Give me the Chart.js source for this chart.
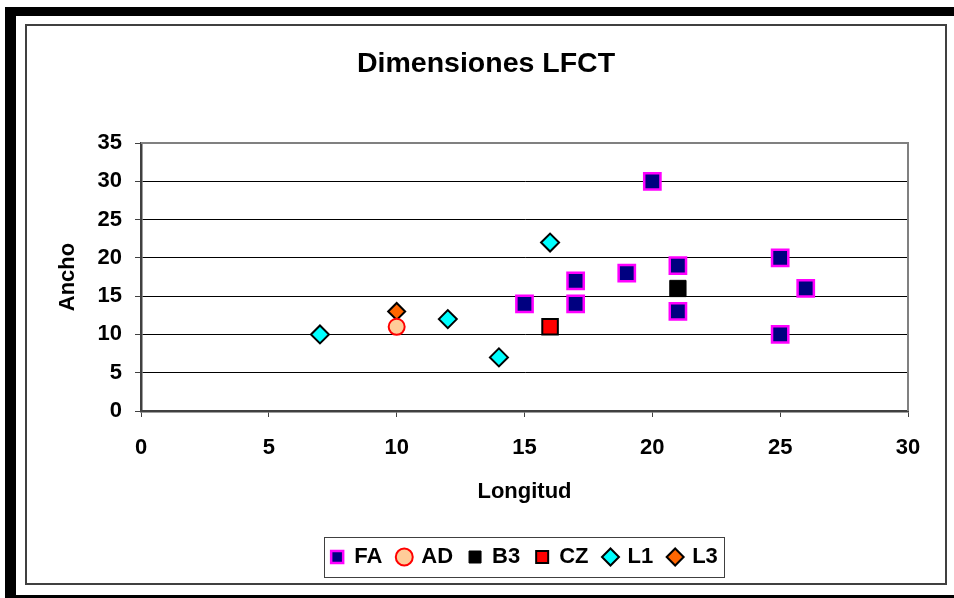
<!DOCTYPE html>
<html lang="es">

<head>
    <meta charset="UTF-8">
    <title>Dimensiones LFCT</title>
    <style>
        body { margin: 0; background: #fff; }
    </style>
</head>

<body>
    <div style="width: 954px; height: 598px;">
        <canvas id="myChart" width="954" height="598"></canvas>
    </div>

    <script src="https://cdn.jsdelivr.net/npm/chart.js"></script>

    <script>
        // datos (longitud = x, ancho = y)
        const v_faX = [15, 17, 17, 19, 20, 21, 21, 25, 25, 26];
        const v_faY = [14, 17, 14, 18, 30, 19, 13, 20, 10, 16];
        const v_adX = [10];
        const v_adY = [11];
        const v_b3X = [21];
        const v_b3Y = [16];
        const v_czX = [16];
        const v_czY = [11];
        const v_l1X = [7, 12, 14, 16];
        const v_l1Y = [10, 12, 7, 22];
        const v_l3X = [10];
        const v_l3Y = [13];

        const v_xTicks = [0, 5, 10, 15, 20, 25, 30];
        const v_yTicks = [0, 5, 10, 15, 20, 25, 30, 35];

        function f_points(xs, ys) {
            let v_out = [];
            for (let i = 0; i < xs.length; i++) {
                v_out.push({ x: xs[i], y: ys[i] });
            }
            return v_out;
        }

        Chart.defaults.font.family = "'Liberation Sans', Arial, sans-serif";
        Chart.defaults.font.weight = 'bold';
        Chart.defaults.color = '#000';

        // marcos de Excel + borde de la leyenda
        const framePlugin = {
            id: 'frame',
            beforeDraw(chart) {
                const c = chart.ctx;
                c.save();
                c.fillStyle = '#fff';
                c.fillRect(0, 0, chart.width, chart.height);
                c.fillStyle = '#000';
                c.fillRect(5, 7, 949, 9);
                c.fillRect(5, 7, 11, 591);
                c.fillRect(5, 595, 949, 3);
                c.strokeStyle = '#404040';
                c.lineWidth = 2;
                c.strokeRect(26, 25, 920, 559);
                c.restore();
            },
            beforeDatasetsDraw(chart) {
                const c = chart.ctx;
                const a = chart.chartArea;
                c.save();
                c.strokeStyle = '#808080';
                c.lineWidth = 2;
                c.beginPath();
                c.moveTo(a.left, a.top);
                c.lineTo(a.right, a.top);
                c.lineTo(a.right, a.bottom);
                c.stroke();
                c.restore();
            },
            afterDraw(chart) {
                const hb = chart.legend.legendHitBoxes;
                if (!hb || !hb.length) return;
                const first = hb[0];
                const last = hb[hb.length - 1];
                const cy = first.top + first.height / 2;
                const c = chart.ctx;
                c.save();
                c.strokeStyle = '#404040';
                c.lineWidth = 1;
                c.strokeRect(Math.round(first.left - 7) + 0.5, Math.round(cy - 20) + 0.5,
                    Math.round(last.left + last.width + 6 - (first.left - 7)), 40);
                c.restore();
            }
        };

        const ctx = document.getElementById("myChart");

        let v_chart = new Chart(ctx, {
            type: 'scatter',
            data: {
                datasets: [{
                    label: 'FA',
                    data: f_points(v_faX, v_faY),
                    pointStyle: 'rect',
                    backgroundColor: '#000080',
                    borderColor: '#FF00FF',
                    borderWidth: 2.5,
                    pointRadius: 11.5
                }, {
                    label: 'AD',
                    data: f_points(v_adX, v_adY),
                    pointStyle: 'circle',
                    backgroundColor: '#FFCC99',
                    borderColor: '#FF0000',
                    borderWidth: 2,
                    pointRadius: 8
                }, {
                    label: 'B3',
                    data: f_points(v_b3X, v_b3Y),
                    pointStyle: 'rect',
                    backgroundColor: '#000000',
                    borderColor: '#000000',
                    borderWidth: 1,
                    pointRadius: 11.5
                }, {
                    label: 'CZ',
                    data: f_points(v_czX, v_czY),
                    pointStyle: 'rect',
                    backgroundColor: '#FF0000',
                    borderColor: '#000000',
                    borderWidth: 2,
                    pointRadius: 11
                }, {
                    label: 'L1',
                    data: f_points(v_l1X, v_l1Y),
                    pointStyle: 'rectRot',
                    backgroundColor: '#00FFFF',
                    borderColor: '#000000',
                    borderWidth: 2,
                    pointRadius: 9
                }, {
                    label: 'L3',
                    data: f_points(v_l3X, v_l3Y),
                    pointStyle: 'rectRot',
                    backgroundColor: '#FF6600',
                    borderColor: '#000000',
                    borderWidth: 2,
                    pointRadius: 8.5
                }]
            },
            options: {
                responsive: false,
                animation: false,
                layout: {
                    padding: { left: 50, right: 32, top: 28, bottom: 20 }
                },
                plugins: {
                    title: {
                        display: true,
                        text: 'Dimensiones LFCT',
                        color: '#000',
                        font: { size: 28.5, weight: 'bold' },
                        padding: { top: 19, bottom: 61.8 }
                    },
                    legend: {
                        position: 'bottom',
                        fullSize: false,
                        labels: {
                            usePointStyle: true,
                            boxWidth: 12,
                            boxHeight: 12,
                            padding: 16,
                            color: '#000',
                            font: { size: 22, weight: 'bold' }
                        }
                    },
                    tooltip: { enabled: false }
                },
                scales: {
                    x: {
                        type: 'linear',
                        min: v_xTicks[0],
                        max: v_xTicks[v_xTicks.length - 1],
                        afterFit: function (scale) { scale.height = 119; },
                        afterBuildTicks: function (scale) {
                            scale.ticks = v_xTicks.map(v => ({ value: v }));
                        },
                        ticks: {
                            padding: 18,
                            color: '#000',
                            font: { size: 22, weight: 'bold' }
                        },
                        grid: {
                            drawOnChartArea: false,
                            drawTicks: true,
                            tickLength: 6,
                            tickColor: '#404040'
                        },
                        border: { display: true, color: '#404040', width: 2.5 },
                        title: {
                            display: true,
                            text: 'Longitud',
                            color: '#000',
                            font: { size: 22, weight: 'bold' },
                            padding: { top: 0, bottom: 24.8 }
                        }
                    },
                    y: {
                        type: 'linear',
                        min: v_yTicks[0],
                        max: v_yTicks[v_yTicks.length - 1],
                        afterFit: function (scale) { scale.width = 91; },
                        afterBuildTicks: function (scale) {
                            scale.ticks = v_yTicks.map(v => ({ value: v }));
                        },
                        ticks: {
                            padding: 13,
                            color: '#000',
                            font: { size: 22, weight: 'bold' }
                        },
                        grid: {
                            color: '#000',
                            lineWidth: 1,
                            drawTicks: true,
                            tickLength: 6,
                            tickColor: '#404040'
                        },
                        border: { display: true, color: '#404040', width: 2.5 },
                        title: {
                            display: true,
                            text: 'Ancho',
                            color: '#000',
                            font: { size: 22, weight: 'bold' },
                            padding: { top: 5, bottom: 0 }
                        }
                    },
                    // eje vacío a la derecha, sólo para reservar espacio
                    yRight: {
                        type: 'linear',
                        position: 'right',
                        min: 0,
                        max: 1,
                        afterFit: function (scale) { scale.width = 14; },
                        ticks: { display: false },
                        grid: { display: false },
                        border: { display: false }
                    }
                }
            },
            plugins: [framePlugin]
        });
    </script>
</body>

</html>
